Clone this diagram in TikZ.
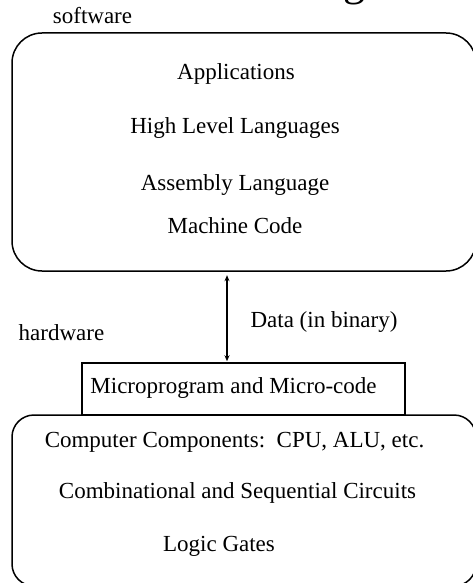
\documentclass[tikz,border=0pt]{standalone}
\usepackage{fontspec}
\setmainfont{Liberation Serif}
\usetikzlibrary{arrows.meta}
\begin{document}
\begin{tikzpicture}[x=1pt,y=-1pt,
  lbl/.style={anchor=base,inner sep=0pt,font=\fontsize{23}{27}\selectfont},
  plainbox/.style={draw,line width=1.5pt,inner sep=0pt}]
\useasboundingbox (0,0) rectangle (472,583);
% partial title glyph at top edge (only its descender shows)
\node[anchor=base,inner sep=0pt,font=\fontsize{44}{50}\selectfont] (title) at (354,-4) {g};
% boxes
\draw[line width=1.5pt,rounded corners=30pt] (12,33) rectangle (476,271);
\node (top) at (244,152) [minimum width=464pt,minimum height=238pt,inner sep=0pt] {};
\draw[line width=1.5pt,rounded corners=22pt] (12,415) rectangle (476,586);
\node (bottom) at (244,500) [minimum width=464pt,minimum height=171pt,inner sep=0pt] {};
\node[plainbox,minimum width=323pt,minimum height=52pt] (micro) at (243.5,389) {};
% texts
\node[lbl] (sw) at (92.5,24) {software};
\node[lbl] (app) at (236,80) {Applications};
\node[lbl] (hll) at (235,133) {High Level Languages};
\node[lbl] (asm) at (235,190) {Assembly Language};
\node[lbl] (mc) at (235,233) {Machine Code};
\node[lbl] (data) at (324,327) {Data (in binary)};
\node[lbl] (hw) at (61.5,340) {hardware};
\node[lbl] (mp) at (233.5,393) {Microprogram and Micro-code};
\node[lbl] (cc) at (234.5,447) {Computer Components:\ \ CPU, ALU, etc.};
\node[lbl] (comb) at (237.5,498) {Combinational and Sequential Circuits};
\node[lbl] (lg) at (219,551) {Logic Gates};
% arrow
\coordinate (ax) at (227,0);
\draw[line width=1.5pt,{Stealth[length=6pt,width=5pt]}-{Stealth[length=6pt,width=5pt]},shorten <=4pt,shorten >=1pt]
  (top.south -| ax) -- (micro.north -| ax);
\end{tikzpicture}
\end{document}
